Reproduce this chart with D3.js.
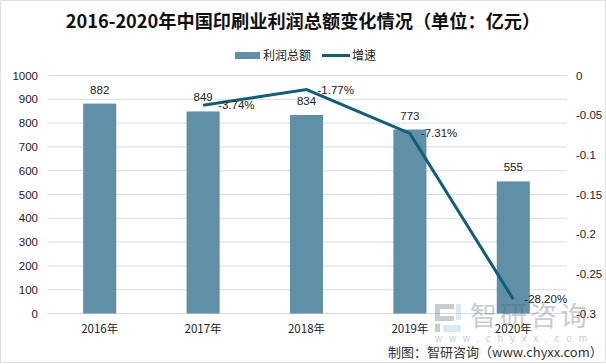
<!DOCTYPE html>
<html>
<head>
<meta charset="utf-8">
<script src="https://cdn.jsdelivr.net/npm/d3@7"></script>
<style>
	body { margin: 0; background: #fff; }
	svg { display: block; }
	text { font-family: "Noto Sans CJK SC", "Liberation Sans", sans-serif; fill: #222; }
</style>
</head>
<body>
<div id="chart"></div>
<script>
const years = ["2016年", "2017年", "2018年", "2019年", "2020年"];
const profit = [882, 849, 834, 773, 555];
const growthYears = ["2017年", "2018年", "2019年", "2020年"];
const growth = [-0.0374, -0.0177, -0.0731, -0.282];
const growthLabels = ["-3.74%", "-1.77%", "-7.31%", "-28.20%"];
const leftTicks = [0, 100, 200, 300, 400, 500, 600, 700, 800, 900, 1000];
const rightTicks = [0, -0.05, -0.1, -0.15, -0.2, -0.25, -0.3];

const width = 606, height = 364;
const barColor = "#5f90a8", lineColor = "#0f5f78", gridColor = "#dcdcdc";
const numFont = "Liberation Sans";

const svg = d3.select("#chart").append("svg")
	.attr("width", width)
	.attr("height", height);

// frame around the picture
svg.append("rect")
	.attr("x", 0.5).attr("y", 0.5)
	.attr("width", width - 1).attr("height", height - 2)
	.attr("fill", "none")
	.attr("stroke", "#e2e2e2");

const x = d3.scaleBand().domain(years).range([48, 565]).paddingInner(0.68).paddingOuter(0.34);
const y = d3.scaleLinear().domain([0, 1000]).range([313.5, 75.5]);
const y2 = d3.scaleLinear().domain([-0.3, 0]).range([313.5, 75.5]);
const center = d => x(d) + x.bandwidth() / 2;

// grid
svg.append("g").selectAll("line")
	.data(leftTicks)
	.join("line")
	.attr("x1", 48).attr("x2", 567)
	.attr("y1", d => y(d)).attr("y2", d => y(d))
	.attr("stroke", gridColor);

// left axis
const yAxis = svg.append("g")
	.attr("transform", "translate(38,0)")
	.call(d3.axisLeft(y).tickValues(leftTicks).tickFormat(d3.format("d")).tickSize(0).tickPadding(0));
yAxis.select(".domain").remove();
yAxis.selectAll("text").style("font-size", "11.5px").style("font-family", numFont);

// right axis
const yAxis2 = svg.append("g")
	.attr("transform", "translate(576,0)")
	.call(d3.axisRight(y2).tickValues(rightTicks).tickFormat(d => String(d)).tickSize(0).tickPadding(0));
yAxis2.select(".domain").remove();
yAxis2.selectAll("text").style("font-size", "11.5px").style("font-family", numFont);

// bars
svg.append("g").selectAll("rect")
	.data(profit)
	.join("rect")
	.attr("x", (d, i) => x(years[i]))
	.attr("y", d => y(d))
	.attr("width", x.bandwidth())
	.attr("height", d => y(0) - y(d))
	.attr("fill", barColor);

// watermark sits over the bars
const mark = svg.append("g").attr("opacity", 0.32);
mark.append("text")
	.attr("x", 470).attr("y", 326)
	.style("font-size", "27px")
	.style("letter-spacing", "3px")
	.style("fill", "#54657a")
	.text("智研咨询");
mark.append("text")
	.attr("x", 435).attr("y", 342)
	.attr("textLength", 152)
	.attr("lengthAdjust", "spacing")
	.style("font-size", "10px")
	.style("font-family", numFont)
	.style("fill", "#54657a")
	.text("www.chyxx.com");
// logo
mark.append("path")
	.attr("d", "M435 304h19v5h-14v7h14v5h-19z M435 324h5v8h-5z")
	.attr("fill", "#54657a");
mark.append("path")
	.attr("d", "M456 304h5v16h-5z M443 325h18v7h-18z")
	.attr("fill", "#8fc0dc");

// category labels
svg.append("g").selectAll("text")
	.data(years)
	.join("text")
	.attr("x", d => center(d))
	.attr("y", 333)
	.attr("text-anchor", "middle")
	.style("font-size", "11.5px")
	.text(d => d);

// bar labels
svg.append("g").selectAll("text")
	.data(profit)
	.join("text")
	.attr("x", (d, i) => center(years[i]))
	.attr("y", d => y(d) - 10)
	.attr("text-anchor", "middle")
	.style("font-size", "11.5px")
	.style("font-family", numFont)
	.text(d => d);

// growth line
const line = d3.line()
	.x((d, i) => center(growthYears[i]))
	.y(d => y2(d));
svg.append("path")
	.datum(growth)
	.attr("d", line)
	.attr("fill", "none")
	.attr("stroke", lineColor)
	.attr("stroke-width", 3);

// growth labels
svg.append("g").selectAll("text")
	.data(growth)
	.join("text")
	.attr("x", (d, i) => center(growthYears[i]) + (i == 0 ? 15 : 11))
	.attr("y", d => y2(d) + 4)
	.style("font-size", "11.5px")
	.style("font-family", numFont)
	.text((d, i) => growthLabels[i]);

// title
svg.append("text")
	.attr("x", 303)
	.attr("y", 28)
	.attr("text-anchor", "middle")
	.style("font-size", "18.2px")
	.style("font-weight", 700)
	.style("fill", "#111")
	.text("2016-2020年中国印刷业利润总额变化情况（单位：亿元）");

// legend
svg.append("rect")
	.attr("x", 235).attr("y", 52).attr("width", 25).attr("height", 7)
	.attr("fill", barColor);
svg.append("text")
	.attr("x", 263).attr("y", 60)
	.style("font-size", "12px")
	.text("利润总额");
svg.append("line")
	.attr("x1", 322).attr("x2", 350).attr("y1", 55.5).attr("y2", 55.5)
	.attr("stroke", lineColor)
	.attr("stroke-width", 3);
svg.append("text")
	.attr("x", 352).attr("y", 60)
	.style("font-size", "12px")
	.text("增速");

// source
svg.append("text")
	.attr("x", 388)
	.attr("y", 357)
	.style("font-size", "13px")
	.style("fill", "#333")
	.text("制图：智研咨询（www.chyxx.com）");
</script>
</body>
</html>
